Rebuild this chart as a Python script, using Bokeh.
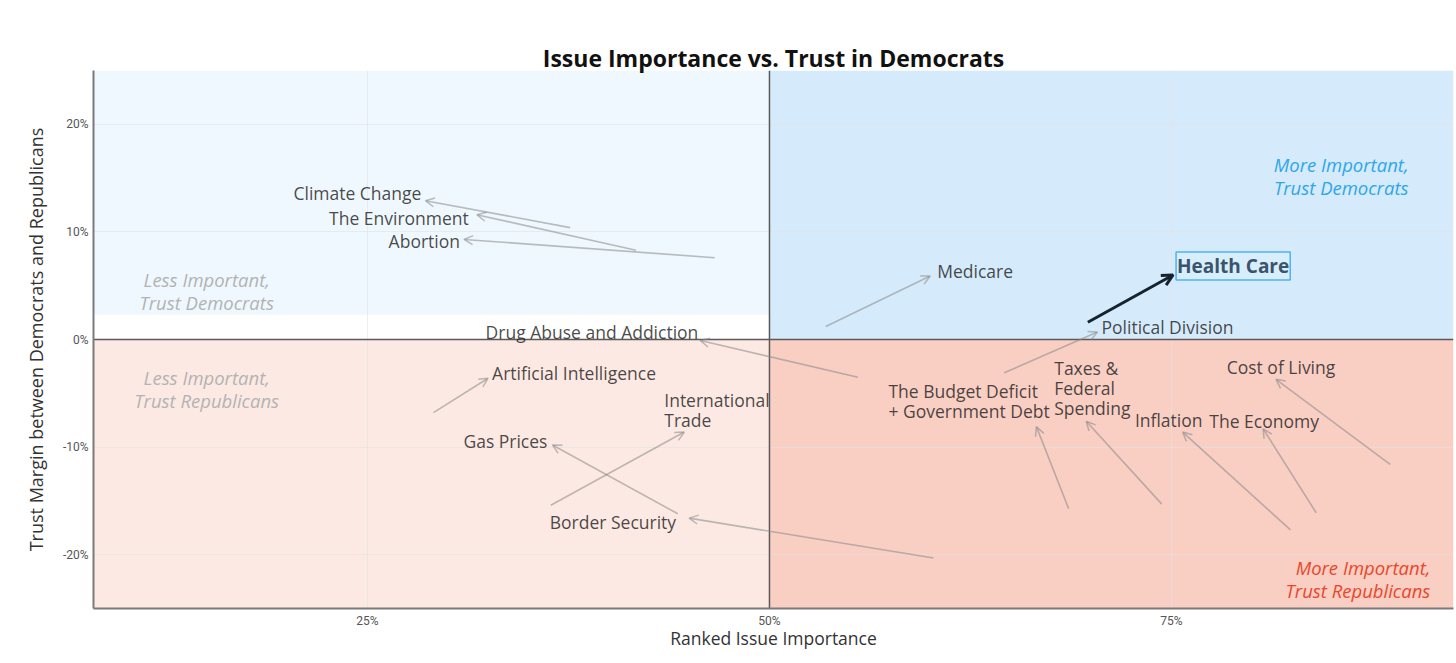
from bokeh.plotting import figure
from bokeh.models import (ColumnDataSource, Arrow, OpenHead, Span, Label, Range1d,
                          FixedTicker, PrintfTickFormatter)
from bokeh.core.properties import value
from bokeh.embed import file_html
from bokeh.resources import INLINE

# ---------------- data ----------------
issues = ["Climate Change", "The Environment", "Abortion", "Drug Abuse and Addiction",
          "Artificial Intelligence", "Gas Prices", "International\nTrade", "Border Security",
          "Medicare", "Health Care", "Political Division",
          "The Budget Deficit\n+ Government Debt", "Taxes &\nFederal\nSpending",
          "Inflation", "The Economy", "Cost of Living"]
importance_before = [37.6, 41.7, 46.6, 55.5, 29.1, 44.3, 36.4, 60.2, 53.5, 69.8, 64.6, 68.6, 74.4, 82.4, 84.0, 88.6]
importance_after  = [28.6, 31.8, 31.0, 45.7, 32.5, 36.5, 44.7, 45.0, 60.0, 75.1, 70.4, 66.6, 69.7, 75.7, 80.7, 81.5]
trust_before = [10.4, 8.3, 7.6, -3.5, -6.8, -16.2, -15.4, -20.3, 1.2, 1.6, -3.1, -15.7, -15.3, -17.7, -16.1, -11.6]
trust_after  = [12.9, 11.6, 9.3, -0.1, -3.6, -9.8, -8.6, -16.6, 5.9, 6.0, 0.7, -8.1, -7.6, -8.6, -8.3, -3.7]
highlight = "Health Care"

x_ticks = [25, 50, 75]
y_ticks = [-20, -10, 0, 10, 20]

# ---------------- styles / placement ----------------
X_MIN, X_MAX = 7.96, 92.54
Y_MIN, Y_MAX = -25, 25
X_MID, Y_MID = 50, 0
UL_BAND = 2.3

# label placement relative to arrow head: (align, dx px, dy px, screen-down)
label_style = [("right", -4, -8), ("right", -8, 3), ("right", -4, 2), ("right", -2, -9),
               ("left", 4, -5), ("right", -5, -4), ("left", -20, -22), ("right", -13, 4),
               ("left", 7, -5), ("left", 3, -9), ("left", 4, -5),
               ("left", -148, -26), ("left", -32, -33),
               ("center", -14, -12), ("center", 1, -8), ("center", 5, -12)]

FONT = "Open Sans"
LABEL_SIZE = "17.5px"

p = figure(width=1456, height=663, x_range=Range1d(X_MIN, X_MAX), y_range=Range1d(Y_MIN, Y_MAX),
           output_backend="svg", toolbar_location=None,
           min_border_left=93, min_border_right=3, min_border_top=70, min_border_bottom=55)
p.background_fill_color = "white"
p.border_fill_color = "white"
p.outline_line_color = None

# quadrant backgrounds
p.quad(left=[X_MID], right=[X_MAX], bottom=[Y_MID], top=[Y_MAX], fill_color="#d5ebfb", line_color=None, level="image")
p.quad(left=[X_MIN], right=[X_MID], bottom=[UL_BAND], top=[Y_MAX], fill_color="#eff8fe", line_color=None, level="image")
p.quad(left=[X_MIN], right=[X_MID], bottom=[Y_MIN], top=[Y_MID], fill_color="#fde9e3", line_color=None, level="image")
p.quad(left=[X_MID], right=[X_MAX], bottom=[Y_MIN], top=[Y_MID], fill_color="#f9cec3", line_color=None, level="image")

# grid
p.xgrid.grid_line_color = "#e2e2e2"
p.ygrid.grid_line_color = "#e2e2e2"
p.xgrid.grid_line_alpha = 0.6
p.ygrid.grid_line_alpha = 0.6

# zero lines
p.add_layout(Span(location=X_MID, dimension="height", line_color="#5a5a5a", line_width=1.5, level="underlay"))
p.add_layout(Span(location=Y_MID, dimension="width", line_color="#5a5a5a", line_width=1.5, level="underlay"))

# axes
p.xaxis.ticker = FixedTicker(ticks=x_ticks)
p.yaxis.ticker = FixedTicker(ticks=y_ticks)
for ax in (p.xaxis[0], p.yaxis[0]):
    ax.formatter = PrintfTickFormatter(format="%d%%")
    ax.major_tick_line_color = None
    ax.minor_tick_line_color = None
    ax.major_tick_out = 0
    ax.major_tick_in = 0
    ax.axis_line_color = "#7a7a7a"
    ax.axis_line_width = 2
    ax.major_label_text_font = "Roboto"
    ax.major_label_text_font_size = "12px"
    ax.major_label_text_color = "#555555"
    ax.axis_label_text_font = FONT
    ax.axis_label_text_font_style = "normal"
    ax.axis_label_text_color = "#333333"
p.xaxis.axis_label = "Ranked Issue Importance"
p.yaxis.axis_label = "Trust Margin between Democrats and Republicans"
p.xaxis.axis_label_text_font_size = "17.5px"
p.yaxis.axis_label_text_font_size = "18px"
p.xaxis.major_label_standoff = 5
p.xaxis.axis_label_standoff = -5
p.yaxis.major_label_standoff = 5
p.yaxis.axis_label_standoff = 12

# title
p.title.text = "Issue Importance vs. Trust in Democrats"
p.title.align = "center"
p.title.text_font = FONT
p.title.text_font_size = "23px"
p.title.text_font_style = "bold"
p.title.text_color = "#111111"
p.title.standoff = -6

# arrows
idx_n = [i for i, s in enumerate(issues) if s != highlight]
idx_h = [i for i, s in enumerate(issues) if s == highlight]

def arrow_source(idx):
    return ColumnDataSource(dict(x0=[importance_before[i] for i in idx], y0=[trust_before[i] for i in idx],
                                 x1=[importance_after[i] for i in idx], y1=[trust_after[i] for i in idx]))

p.add_layout(Arrow(end=OpenHead(size=9, line_color="#888888", line_alpha=0.55, line_width=1.5),
                   x_start="x0", y_start="y0", x_end="x1", y_end="y1", source=arrow_source(idx_n),
                   line_color="#888888", line_alpha=0.55, line_width=1.6))
p.add_layout(Arrow(end=OpenHead(size=11, line_color="#16222e", line_width=3),
                   x_start="x0", y_start="y0", x_end="x1", y_end="y1", source=arrow_source(idx_h),
                   line_color="#16222e", line_width=3))

# labels
lab = ColumnDataSource(dict(x=[importance_after[i] for i in idx_n], y=[trust_after[i] for i in idx_n],
                            text=[issues[i] for i in idx_n],
                            align=[label_style[i][0] for i in idx_n],
                            dx=[label_style[i][1] for i in idx_n],
                            dy=[label_style[i][2] for i in idx_n]))
p.text(x="x", y="y", text="text", source=lab, x_offset="dx", y_offset="dy", text_align="align",
       text_baseline="middle", text_font=value(FONT), text_font_size=LABEL_SIZE, text_color="#222222",
       text_alpha=0.82, text_line_height=0.84)

for i in idx_h:
    p.add_layout(Label(x=importance_after[i], y=trust_after[i], text=issues[i],
                       x_offset=label_style[i][1], y_offset=-label_style[i][2],
                       text_align="left", text_baseline="middle", text_font=FONT,
                       text_font_size="19px", text_font_style="bold", text_color="#3a546c",
                       border_line_color="#4fb2ee", border_line_width=1.5,
                       background_fill_color="#d9eefc", padding=1))

# quadrant labels
quad_text = ["More Important,\nTrust Democrats", "More Important,\nTrust Republicans",
             "Less Important,\nTrust Democrats", "Less Important,\nTrust Republicans"]
quad_x = [89.74, 91.1, 15.0, 15.0]
quad_y = [15.2, -22.29, 4.5, -4.6]
quad_align = ["right", "right", "center", "center"]
quad_color = ["#2ea6ea", "#e8482c", "#b3b3b3", "#b3b3b3"]
p.text(x=quad_x, y=quad_y, text=quad_text, text_align=quad_align, text_color=quad_color,
       text_baseline="middle", text_font=value(FONT), text_font_style="italic",
       text_font_size="18.5px", text_line_height=0.91)

open("out.html", "w").write(file_html(p, INLINE))
